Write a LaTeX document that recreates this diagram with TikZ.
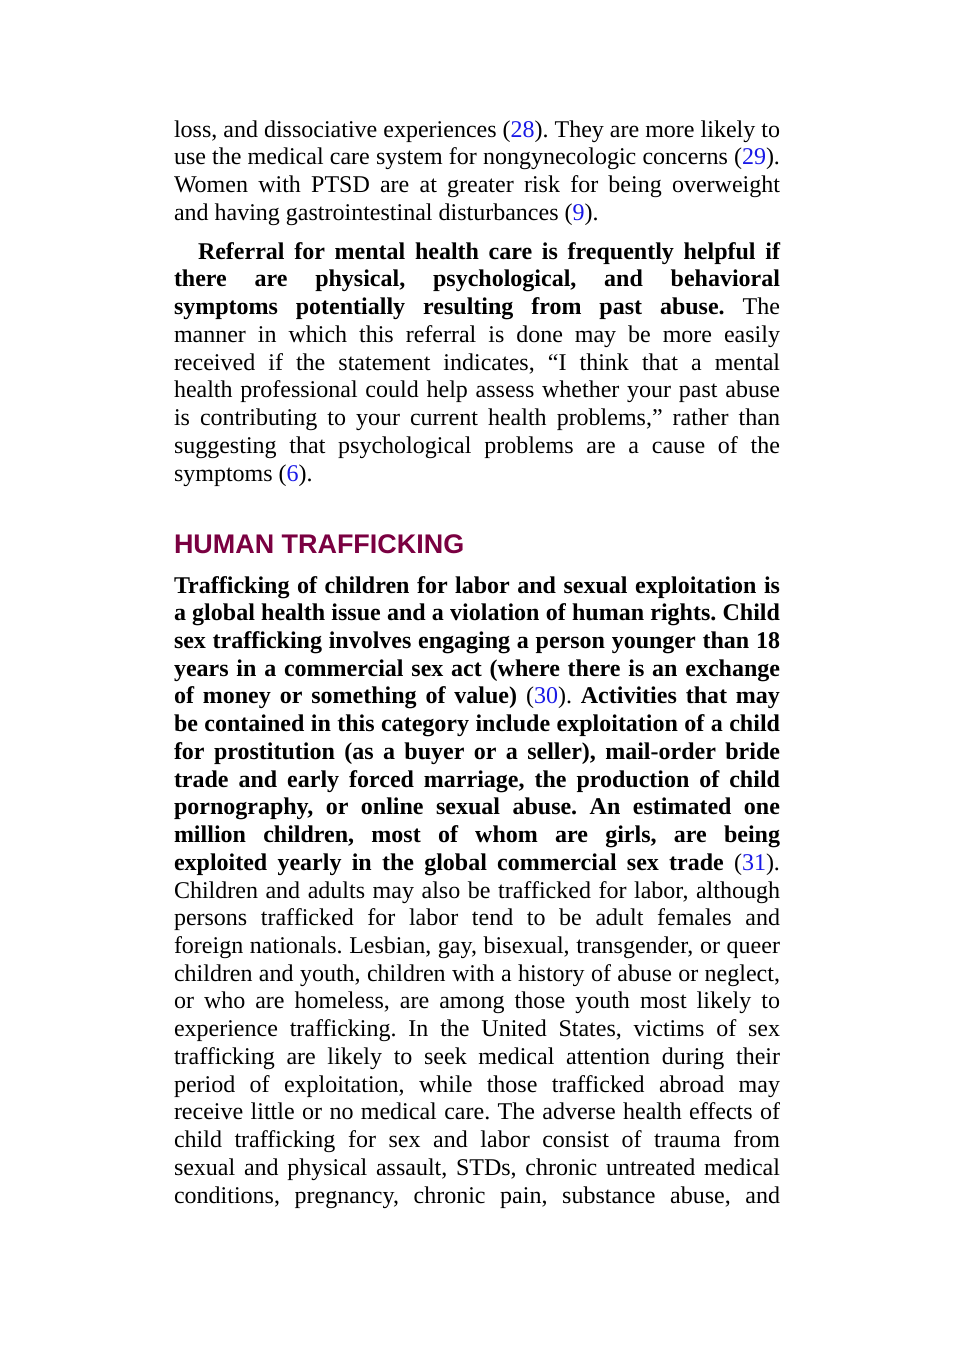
\documentclass[tikz,border=0pt]{standalone}
\usepackage{fontspec}
\setmainfont{Liberation Serif}
\newfontfamily\headfont{Liberation Sans}
\definecolor{linkblue}{RGB}{25,25,230}
\definecolor{headred}{RGB}{122,0,65}
\newcommand{\lnk}[1]{\textcolor{linkblue}{#1}}
\newcommand{\jl}[1]{\makebox[454.5pt][s]{#1}}
\frenchspacing
\begin{document}
\begin{tikzpicture}[x=0.75pt,y=-0.75pt,
  txt/.style={anchor=base west,inner sep=0pt,outer sep=0pt,font=\frenchspacing\fontsize{18pt}{21pt}\selectfont},
  head/.style={anchor=base west,inner sep=0pt,outer sep=0pt,font=\headfont\bfseries\fontsize{20.2pt}{24pt}\selectfont,text=headred}]
\useasboundingbox (0,0) rectangle (954,1350);
% paragraph 1
\node[txt] (a1) at (174,137) {\jl{loss, and dissociative experiences (\lnk{28}). They are more likely to}};
\node[txt] (a2) at (174,164.75) {\jl{use the medical care system for nongynecologic concerns (\lnk{29}).}};
\node[txt] (a3) at (174,192.5) {\jl{Women with PTSD are at greater risk for being overweight}};
\node[txt] (a4) at (174,220.25) {and having gastrointestinal disturbances (\lnk{9}).};
% paragraph 2
\node[txt] (b1) at (198,259) {\makebox[436.5pt][s]{\bfseries Referral for mental health care is frequently helpful if}};
\node[txt] (b2) at (174,286.75) {\jl{\bfseries there are physical, psychological, and behavioral}};
\node[txt] (b3) at (174,314.5) {\jl{\textbf{symptoms potentially resulting from past abuse.} The}};
\node[txt] (b4) at (174,342.25) {\jl{manner in which this referral is done may be more easily}};
\node[txt] (b5) at (174,370) {\jl{received if the statement indicates, “I think that a mental}};
\node[txt] (b6) at (174,397.75) {\jl{health professional could help assess whether your past abuse}};
\node[txt] (b7) at (174,425.5) {\jl{is contributing to your current health problems,” rather than}};
\node[txt] (b8) at (174,453.25) {\jl{suggesting that psychological problems are a cause of the}};
\node[txt] (b9) at (174,481) {symptoms (\lnk{6}).};
% heading
\node[head] (h) at (174,553) {HUMAN TRAFFICKING};
% paragraph 3
\node[txt] (c1) at (174,593) {\jl{\bfseries Trafficking of children for labor and sexual exploitation is}};
\node[txt] (c2) at (174,620.73) {\jl{\bfseries a global health issue and a violation of human rights. Child}};
\node[txt] (c3) at (174,648.46) {\jl{\bfseries sex trafficking involves engaging a person younger than 18}};
\node[txt] (c4) at (174,676.19) {\jl{\bfseries years in a commercial sex act (where there is an exchange}};
\node[txt] (c5) at (174,703.92) {\jl{\textbf{of money or something of value)} (\lnk{30}). \textbf{Activities that may}}};
\node[txt] (c6) at (174,731.65) {\jl{\bfseries be contained in this category include exploitation of a child}};
\node[txt] (c7) at (174,759.38) {\jl{\bfseries for prostitution (as a buyer or a seller), mail-order bride}};
\node[txt] (c8) at (174,787.11) {\jl{\bfseries trade and early forced marriage, the production of child}};
\node[txt] (c9) at (174,814.84) {\jl{\bfseries pornography, or online sexual abuse. An estimated one}};
\node[txt] (c10) at (174,842.57) {\jl{\bfseries million children, most of whom are girls, are being}};
\node[txt] (c11) at (174,870.3) {\jl{\textbf{exploited yearly in the global commercial sex trade} (\lnk{31}).}};
\node[txt] (c12) at (174,898.03) {\jl{Children and adults may also be trafficked for labor, although}};
\node[txt] (c13) at (174,925.76) {\jl{persons trafficked for labor tend to be adult females and}};
\node[txt] (c14) at (174,953.49) {\jl{foreign nationals. Lesbian, gay, bisexual, transgender, or queer}};
\node[txt] (c15) at (174,981.22) {\jl{children and youth, children with a history of abuse or neglect,}};
\node[txt] (c16) at (174,1008.95) {\jl{or who are homeless, are among those youth most likely to}};
\node[txt] (c17) at (174,1036.68) {\jl{experience trafficking. In the United States, victims of sex}};
\node[txt] (c18) at (174,1064.41) {\jl{trafficking are likely to seek medical attention during their}};
\node[txt] (c19) at (174,1092.14) {\jl{period of exploitation, while those trafficked abroad may}};
\node[txt] (c20) at (174,1119.87) {\jl{receive little or no medical care. The adverse health effects of}};
\node[txt] (c21) at (174,1147.6) {\jl{child trafficking for sex and labor consist of trauma from}};
\node[txt] (c22) at (174,1175.33) {\jl{sexual and physical assault, STDs, chronic untreated medical}};
\node[txt] (c23) at (174,1203.06) {\jl{conditions, pregnancy, chronic pain, substance abuse, and}};
\end{tikzpicture}
\end{document}
